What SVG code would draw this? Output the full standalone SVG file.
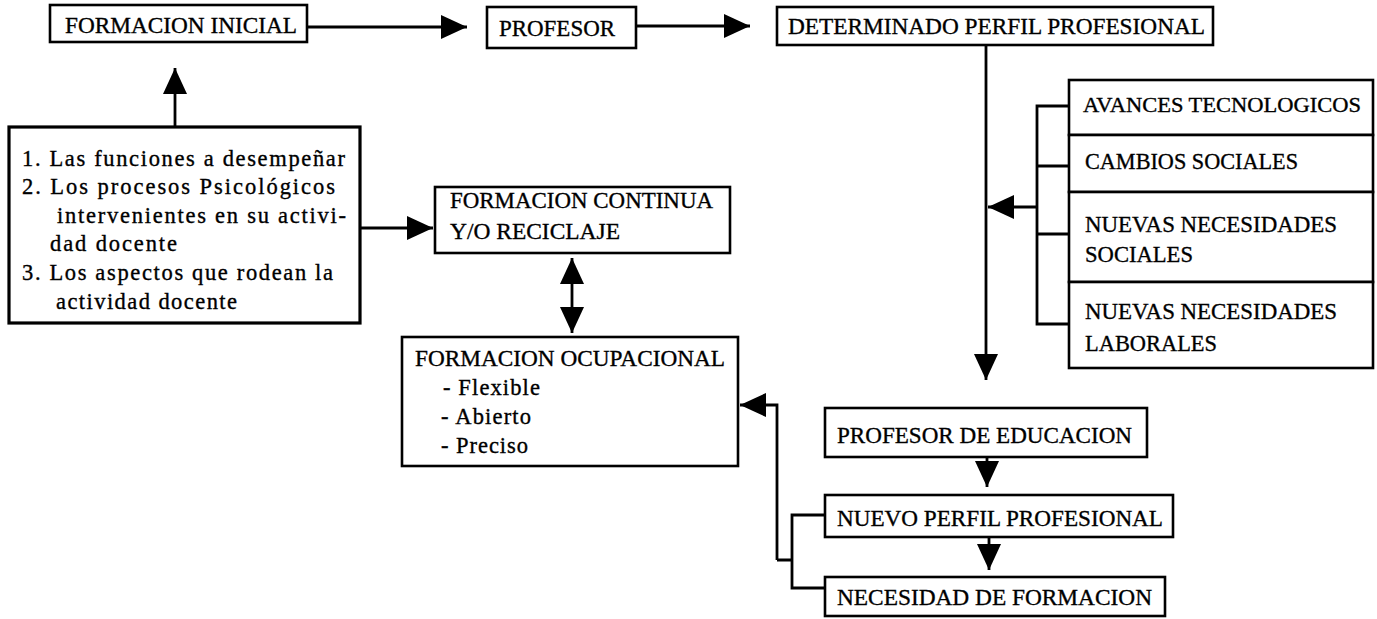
<svg xmlns="http://www.w3.org/2000/svg" width="1377" height="619" viewBox="0 0 1377 619">
<style>
.box{fill:#fff;stroke:#000;stroke-width:2.6}
.t{font-family:"Liberation Serif","Times New Roman",serif;font-size:24px;fill:#000;stroke:#000;stroke-width:0.35}
.s{font-size:22.5px}
.c{fill:none;stroke:#000;stroke-width:2.8}
.a{marker-end:url(#ah)}
</style>
<defs>
<marker id="ah" viewBox="0 0 26 24" refX="26" refY="12" markerWidth="26" markerHeight="24" markerUnits="userSpaceOnUse" orient="auto-start-reverse">
<path d="M0,0 L26,12 L0,24 Z" fill="#000"/>
</marker>
</defs>
<rect width="1377" height="619" fill="#fff"/>
<g id="connectors">
<path class="c a" d="M307,27 H467"/>
<path class="c a" d="M636,26 H750"/>
<path class="c a" d="M175,127 V68"/>
<path class="c a" d="M360,228 H433"/>
<path class="c a" d="M572,296 V258"/>
<path class="c a" d="M572,296 V333"/>
<path class="c a" d="M986,45 V380"/>
<path class="c" d="M1069,106 H1037 V324 H1069 M1037,166 H1069 M1037,234 H1069"/>
<path class="c a" d="M1037,207 H988"/>
<path class="c a" d="M987,457 V487"/>
<path class="c a" d="M989,537 V570"/>
<path class="c" d="M825,515 H792 V588 H825 M792,560 H777"/>
<path class="c a" d="M777,560 V405 H740"/>
</g>
<g id="formacion-inicial">
<rect class="box" x="50" y="5" width="257" height="37"/>
<text class="t" x="65" y="33" textLength="232" lengthAdjust="spacingAndGlyphs">FORMACION INICIAL</text>
</g>
<g id="profesor">
<rect class="box" x="487" y="7" width="149" height="41"/>
<text class="t" x="499" y="36" textLength="116" lengthAdjust="spacingAndGlyphs">PROFESOR</text>
</g>
<g id="perfil-profesional">
<rect class="box" x="777" y="7" width="436" height="38"/>
<text class="t" x="788" y="34" textLength="417" lengthAdjust="spacingAndGlyphs">DETERMINADO PERFIL PROFESIONAL</text>
</g>
<g id="aspectos">
<rect class="box" x="9" y="127" width="351" height="196" style="stroke-width:3.2"/>
<text class="t s" x="22" y="166" textLength="323" lengthAdjust="spacing">1. Las funciones a desempeñar</text>
<text class="t s" x="22" y="194" textLength="313" lengthAdjust="spacing">2. Los procesos Psicológicos</text>
<text class="t s" x="57" y="223" textLength="289" lengthAdjust="spacing">intervenientes en su activi-</text>
<text class="t s" x="50" y="251" textLength="127" lengthAdjust="spacing">dad docente</text>
<text class="t s" x="22" y="280" textLength="311" lengthAdjust="spacing">3. Los aspectos que rodean la</text>
<text class="t s" x="56" y="309" textLength="181" lengthAdjust="spacing">actividad docente</text>
</g>
<g id="formacion-continua">
<rect class="box" x="435" y="187" width="295" height="66"/>
<text class="t" x="450" y="208" textLength="263" lengthAdjust="spacingAndGlyphs">FORMACION CONTINUA</text>
<text class="t" x="450" y="239" textLength="170" lengthAdjust="spacingAndGlyphs">Y/O RECICLAJE</text>
</g>
<g id="formacion-ocupacional">
<rect class="box" x="402" y="337" width="336" height="129"/>
<text class="t" x="415" y="366" textLength="310" lengthAdjust="spacingAndGlyphs">FORMACION OCUPACIONAL</text>
<text class="t s" x="443" y="395" textLength="97" lengthAdjust="spacing">- Flexible</text>
<text class="t s" x="441" y="424" textLength="90" lengthAdjust="spacing">- Abierto</text>
<text class="t s" x="441" y="453" textLength="87" lengthAdjust="spacing">- Preciso</text>
</g>
<g id="factores">
<rect class="box" x="1069" y="80" width="304" height="55"/>
<text class="t" x="1083" y="112" style="font-size:22px" textLength="278" lengthAdjust="spacingAndGlyphs">AVANCES TECNOLOGICOS</text>
<rect class="box" x="1069" y="135" width="304" height="57"/>
<text class="t" x="1085" y="169" textLength="213" lengthAdjust="spacingAndGlyphs">CAMBIOS SOCIALES</text>
<rect class="box" x="1069" y="192" width="304" height="90"/>
<text class="t" x="1085" y="232" textLength="252" lengthAdjust="spacingAndGlyphs">NUEVAS NECESIDADES</text>
<text class="t" x="1085" y="262" textLength="108" lengthAdjust="spacingAndGlyphs">SOCIALES</text>
<rect class="box" x="1069" y="282" width="304" height="86"/>
<text class="t" x="1085" y="319" textLength="252" lengthAdjust="spacingAndGlyphs">NUEVAS NECESIDADES</text>
<text class="t" x="1085" y="351" textLength="132" lengthAdjust="spacingAndGlyphs">LABORALES</text>
</g>
<g id="profesor-educacion">
<rect class="box" x="825" y="408" width="322" height="49"/>
<text class="t" x="837" y="443" textLength="295" lengthAdjust="spacingAndGlyphs">PROFESOR DE EDUCACION</text>
</g>
<g id="nuevo-perfil">
<rect class="box" x="825" y="495" width="348" height="42"/>
<text class="t" x="837" y="526" textLength="326" lengthAdjust="spacingAndGlyphs">NUEVO PERFIL PROFESIONAL</text>
</g>
<g id="necesidad-formacion">
<rect class="box" x="825" y="577" width="340" height="39"/>
<text class="t" x="837" y="605" textLength="315" lengthAdjust="spacingAndGlyphs">NECESIDAD DE FORMACION</text>
</g>
</svg>
